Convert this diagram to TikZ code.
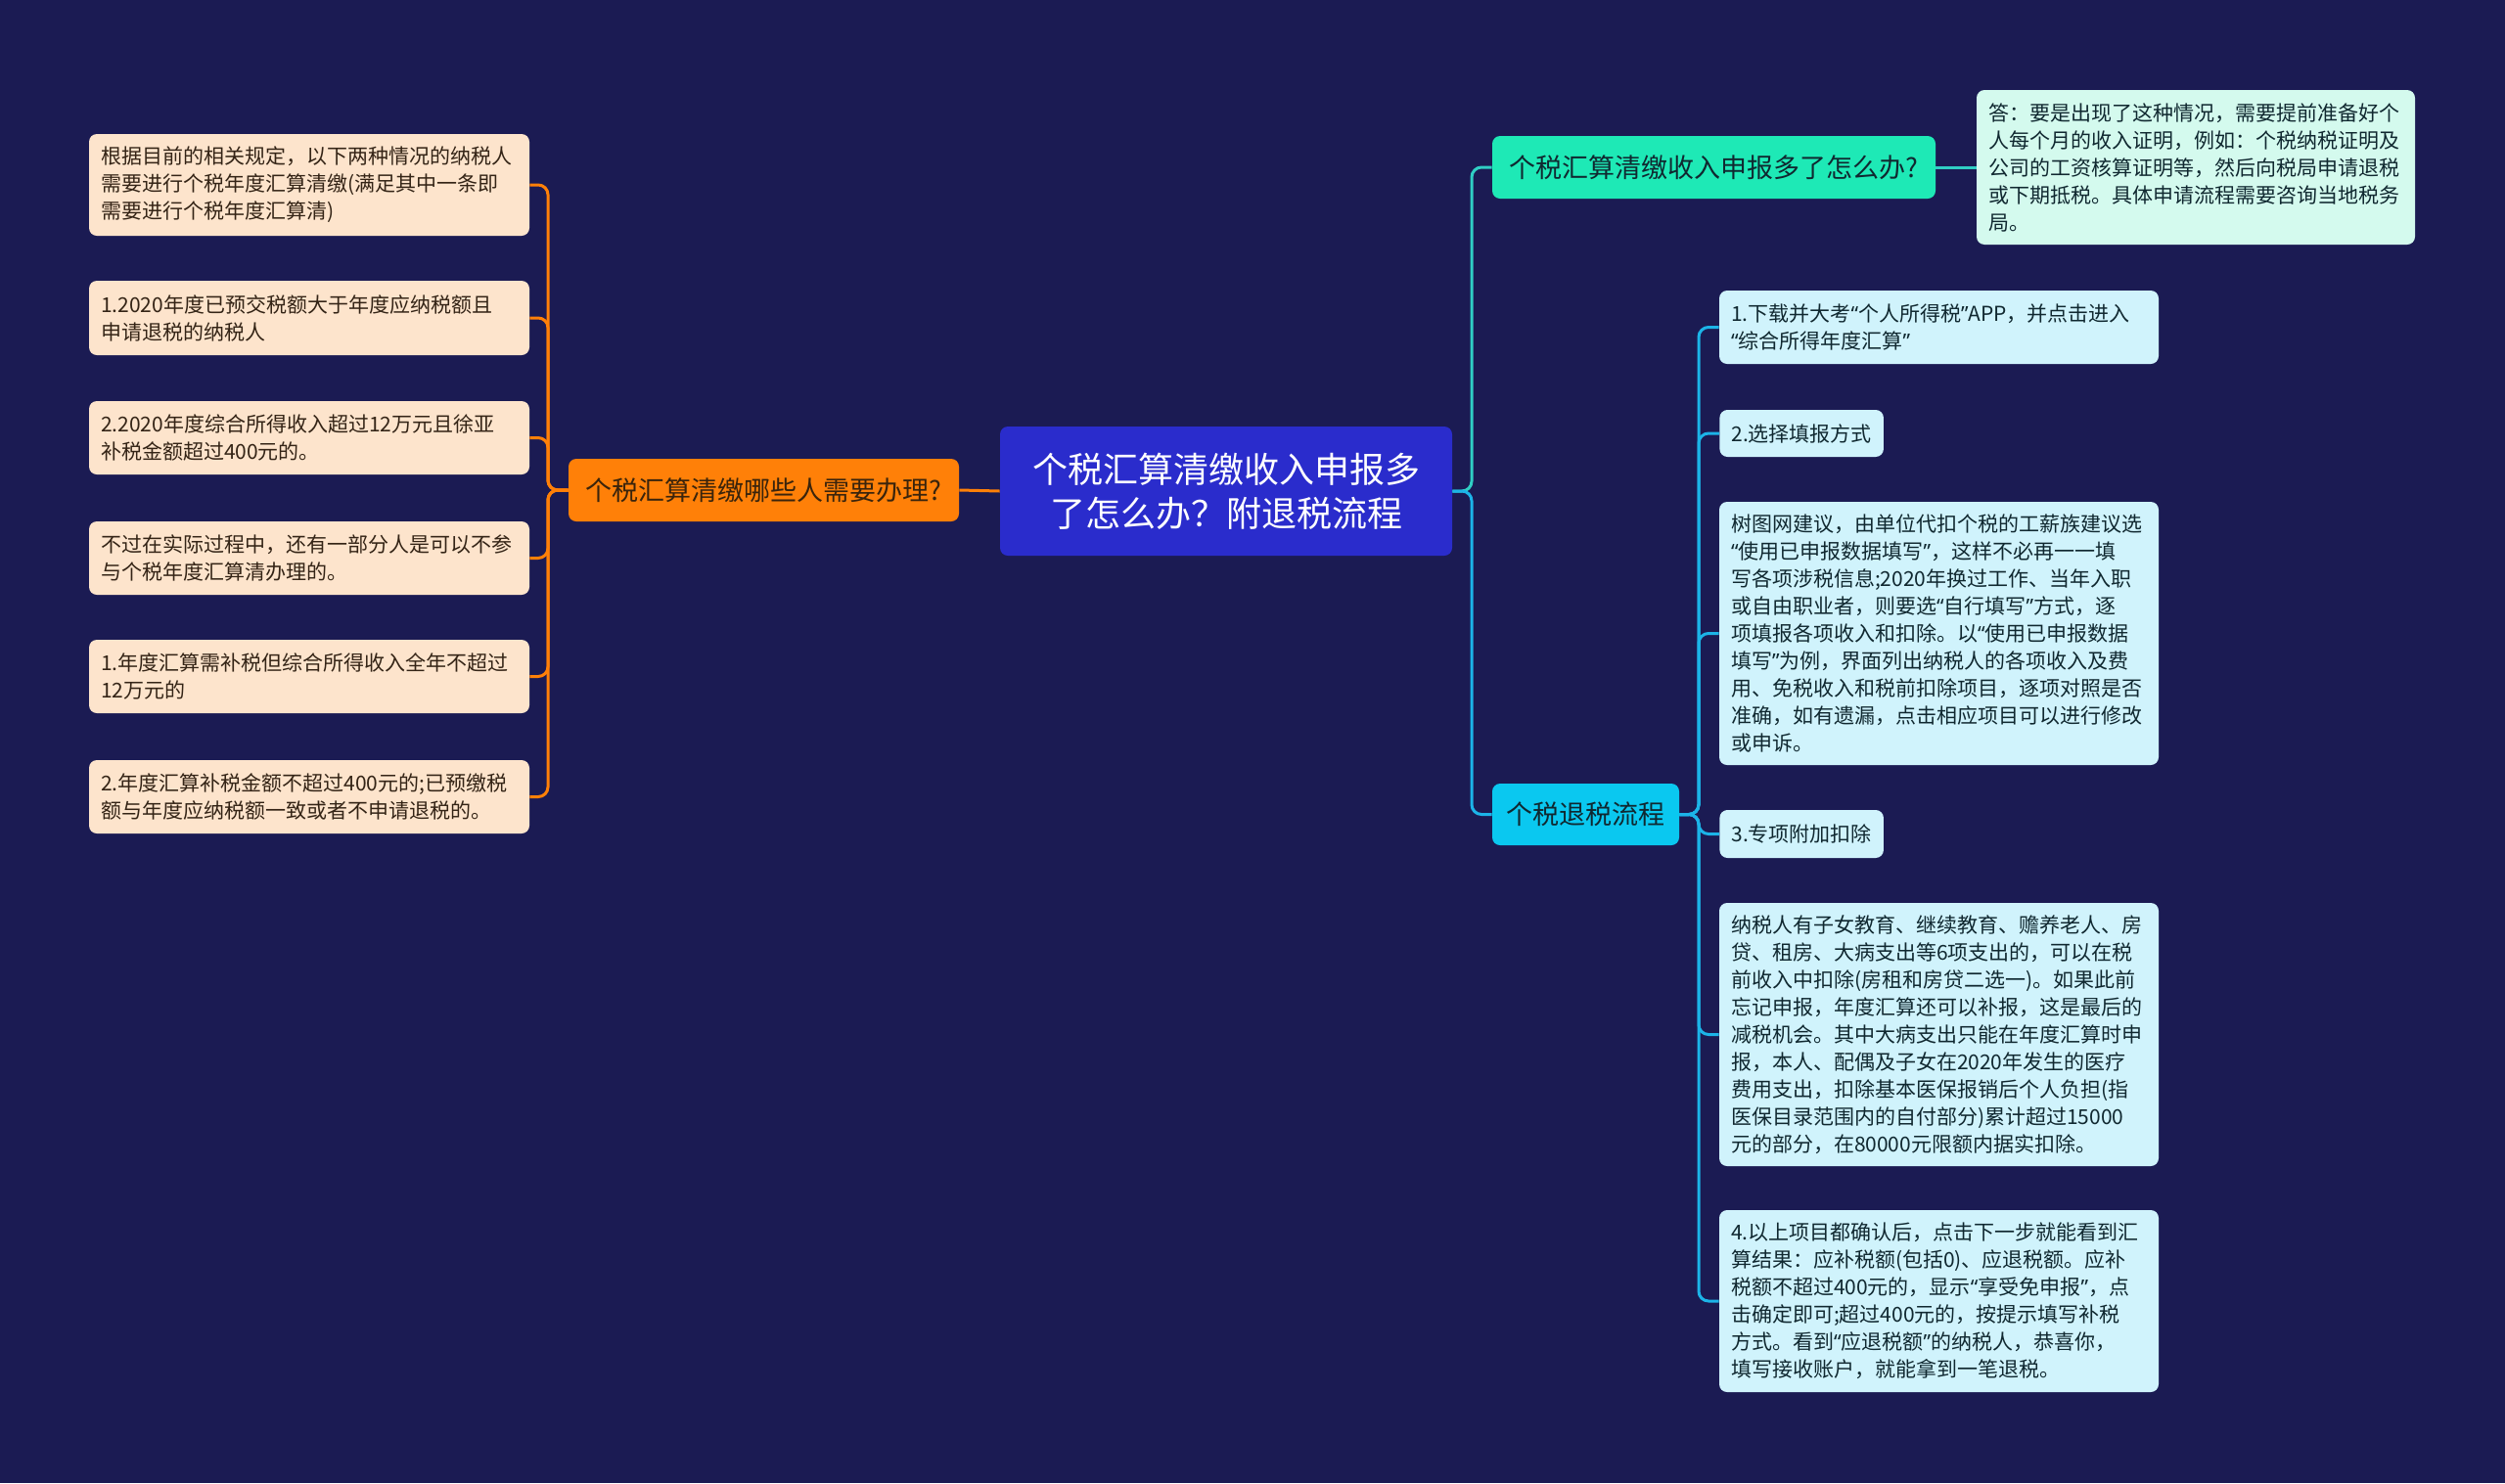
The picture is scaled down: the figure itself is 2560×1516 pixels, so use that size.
\documentclass[tikz,border=0pt]{standalone}
\usepackage{fontspec}
\setmainfont{Noto Sans CJK SC}
\newfontfamily\quotefont{Noto Sans}
\newcommand{\oq}{{\quotefont “}}
\newcommand{\cq}{{\quotefont ”}}
\usepackage{tikz}
\usetikzlibrary{calc}
\definecolor{NightBg}{RGB}{27,27,83}
\definecolor{RootBlue}{RGB}{42,44,204}
\definecolor{AskOrange}{RGB}{255,128,8}
\definecolor{AskText}{RGB}{58,36,12}
\definecolor{LeafPeach}{RGB}{253,228,204}
\definecolor{LeafText}{RGB}{52,36,22}
\definecolor{MintTop}{RGB}{30,233,182}
\definecolor{MintLeaf}{RGB}{212,250,238}
\definecolor{CyanMid}{RGB}{10,200,240}
\definecolor{CyanLeaf}{RGB}{208,243,252}
\definecolor{DarkInk}{RGB}{16,40,48}
\definecolor{TieTeal}{RGB}{48,206,196}
\definecolor{TieCyan}{RGB}{28,180,232}

\tikzset{
  box/.style={rounded corners=4pt, inner xsep=6pt, inner ysep=0pt},
  rootbox/.style={box, fill=RootBlue, text=white, align=center,
        font=\fontsize{18}{22.5}\selectfont},
  topicbox/.style={box, font=\fontsize{13.5}{17}\selectfont, minimum height=32pt},
  peachleaf/.style={box, fill=LeafPeach, text=LeafText, align=left,
        text width=213pt, font=\fontsize{10.5}{14}\selectfont},
  mintleaf/.style={box, fill=MintLeaf, text=DarkInk, align=left,
        text width=212pt, font=\fontsize{10.5}{14}\selectfont},
  cyanleaf/.style={box, fill=CyanLeaf, text=DarkInk, align=left,
        font=\fontsize{10.5}{14}\selectfont},
  tie/.style={line width=1.5pt, rounded corners=5pt}
}

\begin{document}
\begin{tikzpicture}[x=0.5pt, y=-0.5pt]
  \useasboundingbox[fill=NightBg] (0,0) rectangle (2560,1516);

  % centre
  \node[rootbox, minimum width=231pt, minimum height=66pt] (root) at (1253,502)
    {个税汇算清缴收入申报多\\了怎么办？附退税流程};

  % left branch
  \node[topicbox, fill=AskOrange, text=AskText, minimum width=199.5pt] (who) at (780.5,501)
    {个税汇算清缴哪些人需要办理?};
  \node[peachleaf, minimum height=52pt] (who1) at (316,189)
    {根据目前的相关规定，以下两种情况的纳税人\\需要进行个税年度汇算清缴(满足其中一条即\\需要进行个税年度汇算清)};
  \node[peachleaf, minimum height=38pt] (who2) at (316,325)
    {1.2020年度已预交税额大于年度应纳税额且\\申请退税的纳税人};
  \node[peachleaf, minimum height=37.5pt] (who3) at (316,447.5)
    {2.2020年度综合所得收入超过12万元且徐亚\\补税金额超过400元的。};
  \node[peachleaf, minimum height=37.5pt] (who4) at (316,570.5)
    {不过在实际过程中，还有一部分人是可以不参\\与个税年度汇算清办理的。};
  \node[peachleaf, minimum height=37.5pt] (who5) at (316,691.5)
    {1.年度汇算需补税但综合所得收入全年不超过\\12万元的};
  \node[peachleaf, minimum height=37.5pt] (who6) at (316,814.5)
    {2.年度汇算补税金额不超过400元的;已预缴税\\额与年度应纳税额一致或者不申请退税的。};

  % right branch, top
  \node[topicbox, fill=MintTop, text=DarkInk, minimum width=226.5pt] (more) at (1751.5,171)
    {个税汇算清缴收入申报多了怎么办?};
  \node[mintleaf, minimum height=79pt] (answer) at (2244,171)
    {答：要是出现了这种情况，需要提前准备好个\\人每个月的收入证明，例如：个税纳税证明及\\公司的工资核算证明等，然后向税局申请退税\\或下期抵税。具体申请流程需要咨询当地税务\\局。};

  % right branch, bottom
  \node[topicbox, fill=CyanMid, text=DarkInk, minimum width=95.5pt, minimum height=31.5pt] (refund) at (1620.5,832.5)
    {个税退税流程};
  \node[cyanleaf, text width=212.5pt, minimum height=37.5pt] (step1) at (1981.5,334.5)
    {1.下载并大考\oq 个人所得税\cq APP，并点击进入\\\oq 综合所得年度汇算\cq};
  \node[cyanleaf, anchor=west, minimum height=24pt] (step2) at (1757,443)
    {2.选择填报方式};
  \node[cyanleaf, text width=212.5pt, minimum height=134.5pt] (step3) at (1981.5,647.5)
    {树图网建议，由单位代扣个税的工薪族建议选\\\oq 使用已申报数据填写\cq，这样不必再一一填\\写各项涉税信息;2020年换过工作、当年入职\\或自由职业者，则要选\oq 自行填写\cq 方式，逐\\项填报各项收入和扣除。以\oq 使用已申报数据\\填写\cq 为例，界面列出纳税人的各项收入及费\\用、免税收入和税前扣除项目，逐项对照是否\\准确，如有遗漏，点击相应项目可以进行修改\\或申诉。};
  \node[cyanleaf, anchor=west, minimum height=24.5pt] (step4) at (1757,852.5)
    {3.专项附加扣除};
  \node[cyanleaf, text width=212.5pt, minimum height=134.5pt] (step5) at (1981.5,1057.5)
    {纳税人有子女教育、继续教育、赡养老人、房\\贷、租房、大病支出等6项支出的，可以在税\\前收入中扣除(房租和房贷二选一)。如果此前\\忘记申报，年度汇算还可以补报，这是最后的\\减税机会。其中大病支出只能在年度汇算时申\\报，本人、配偶及子女在2020年发生的医疗\\费用支出，扣除基本医保报销后个人负担(指\\医保目录范围内的自付部分)累计超过15000\\元的部分，在80000元限额内据实扣除。};
  \node[cyanleaf, text width=212.5pt, minimum height=93pt] (step6) at (1981.5,1330)
    {4.以上项目都确认后，点击下一步就能看到汇\\算结果：应补税额(包括0)、应退税额。应补\\税额不超过400元的，显示\oq 享受免申报\cq，点\\击确定即可;超过400元的，按提示填写补税\\方式。看到\oq 应退税额\cq 的纳税人，恭喜你，\\填写接收账户，就能拿到一笔退税。};

  % connectors
  \coordinate (whobus) at (560,501);
  \coordinate (rootbus) at (1504,502);
  \coordinate (stepbus) at (1736,832.5);
  \draw[tie, AskOrange] (root.west) -- (who.east);
  \foreach \n in {who1,who2,who3,who4,who5,who6}
    \draw[tie, AskOrange] (who.west) -- (whobus) |- (\n.east);
  \draw[tie, TieTeal] (root.east) -- (rootbus) |- (more.west);
  \draw[tie, TieTeal] (more.east) -- (answer.west);
  \draw[tie, TieCyan] (root.east) -- (rootbus) |- (refund.west);
  \foreach \n in {step1,step2,step3,step4,step5,step6}
    \draw[tie, TieCyan] (refund.east) -- (stepbus) |- (\n.west);
\end{tikzpicture}
\end{document}
